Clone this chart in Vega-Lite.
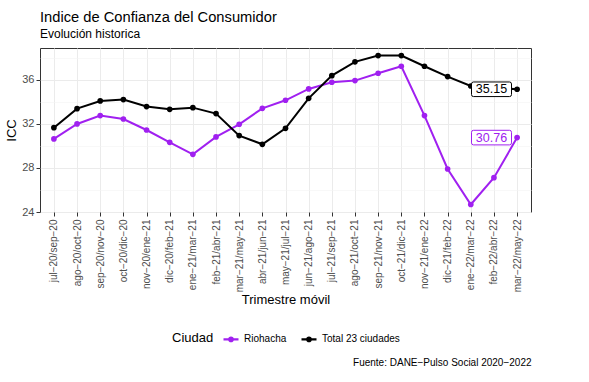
{
  "$schema": "https://vega.github.io/schema/vega-lite/v6.json",
  "background": "white",
  "padding": {"left": 5, "top": 9, "right": 5, "bottom": 5},
  "title": {
    "text": "Fuente: DANE−Pulso Social 2020−2022",
    "orient": "bottom",
    "anchor": "end",
    "fontSize": 10,
    "fontWeight": "normal",
    "font": "Liberation Sans",
    "color": "#000000",
    "offset": 12
  },
  "datasets": {
    "icc": [
      {"t": "jul−20/sep−20", "ciudad": "Riohacha", "icc": 30.64},
      {"t": "ago−20/oct−20", "ciudad": "Riohacha", "icc": 32.0},
      {"t": "sep−20/nov−20", "ciudad": "Riohacha", "icc": 32.76},
      {"t": "oct−20/dic−20", "ciudad": "Riohacha", "icc": 32.45},
      {"t": "nov−20/ene−21", "ciudad": "Riohacha", "icc": 31.45},
      {"t": "dic−20/feb−21", "ciudad": "Riohacha", "icc": 30.33},
      {"t": "ene−21/mar−21", "ciudad": "Riohacha", "icc": 29.24},
      {"t": "feb−21/abr−21", "ciudad": "Riohacha", "icc": 30.82},
      {"t": "mar−21/may−21", "ciudad": "Riohacha", "icc": 31.97},
      {"t": "abr−21/jun−21", "ciudad": "Riohacha", "icc": 33.42},
      {"t": "may−21/jul−21", "ciudad": "Riohacha", "icc": 34.15},
      {"t": "jun−21/ago−21", "ciudad": "Riohacha", "icc": 35.18},
      {"t": "jul−21/sep−21", "ciudad": "Riohacha", "icc": 35.79},
      {"t": "ago−21/oct−21", "ciudad": "Riohacha", "icc": 35.94},
      {"t": "sep−21/nov−21", "ciudad": "Riohacha", "icc": 36.61},
      {"t": "oct−21/dic−21", "ciudad": "Riohacha", "icc": 37.24},
      {"t": "nov−21/ene−22", "ciudad": "Riohacha", "icc": 32.76},
      {"t": "dic−21/feb−22", "ciudad": "Riohacha", "icc": 27.91},
      {"t": "ene−22/mar−22", "ciudad": "Riohacha", "icc": 24.68},
      {"t": "feb−22/abr−22", "ciudad": "Riohacha", "icc": 27.12},
      {"t": "mar−22/may−22", "ciudad": "Riohacha", "icc": 30.76},
      {"t": "jul−20/sep−20", "ciudad": "Total 23 ciudades", "icc": 31.66},
      {"t": "ago−20/oct−20", "ciudad": "Total 23 ciudades", "icc": 33.39},
      {"t": "sep−20/nov−20", "ciudad": "Total 23 ciudades", "icc": 34.09},
      {"t": "oct−20/dic−20", "ciudad": "Total 23 ciudades", "icc": 34.21},
      {"t": "nov−20/ene−21", "ciudad": "Total 23 ciudades", "icc": 33.58},
      {"t": "dic−20/feb−21", "ciudad": "Total 23 ciudades", "icc": 33.33},
      {"t": "ene−21/mar−21", "ciudad": "Total 23 ciudades", "icc": 33.48},
      {"t": "feb−21/abr−21", "ciudad": "Total 23 ciudades", "icc": 32.94},
      {"t": "mar−21/may−21", "ciudad": "Total 23 ciudades", "icc": 30.94},
      {"t": "abr−21/jun−21", "ciudad": "Total 23 ciudades", "icc": 30.15},
      {"t": "may−21/jul−21", "ciudad": "Total 23 ciudades", "icc": 31.6},
      {"t": "jun−21/ago−21", "ciudad": "Total 23 ciudades", "icc": 34.33},
      {"t": "jul−21/sep−21", "ciudad": "Total 23 ciudades", "icc": 36.39},
      {"t": "ago−21/oct−21", "ciudad": "Total 23 ciudades", "icc": 37.64},
      {"t": "sep−21/nov−21", "ciudad": "Total 23 ciudades", "icc": 38.21},
      {"t": "oct−21/dic−21", "ciudad": "Total 23 ciudades", "icc": 38.21},
      {"t": "nov−21/ene−22", "ciudad": "Total 23 ciudades", "icc": 37.24},
      {"t": "dic−21/feb−22", "ciudad": "Total 23 ciudades", "icc": 36.3},
      {"t": "ene−22/mar−22", "ciudad": "Total 23 ciudades", "icc": 35.45},
      {"t": "feb−22/abr−22", "ciudad": "Total 23 ciudades", "icc": 35.3},
      {"t": "mar−22/may−22", "ciudad": "Total 23 ciudades", "icc": 35.15}
    ]
  },
  "vconcat": [
    {
      "title": {
        "text": "Indice de Confianza del Consumidor",
        "subtitle": "Evolución historica",
        "anchor": "start",
        "frame": "group",
        "fontSize": 14.7,
        "subtitleFontSize": 12,
        "fontWeight": "normal",
        "font": "Liberation Sans",
        "subtitleFont": "Liberation Sans",
        "color": "#000000",
        "subtitleColor": "#000000",
        "subtitlePadding": 4,
        "offset": 8
      },
      "width": 491,
      "height": 164,
      "data": {"name": "icc"},
      "encoding": {
        "x": {
          "field": "t",
          "type": "ordinal",
          "sort": null,
          "scale": {"type": "point", "padding": 0.6},
          "axis": {
            "title": "Trimestre móvil",
            "labelAngle": -90,
            "labelFontSize": 10,
            "labelColor": "#4d4d4d",
            "titleFontSize": 13,
            "titleFontWeight": "normal",
            "titleColor": "#000000",
            "grid": true,
            "gridColor": "#ebebeb",
            "gridWidth": 1,
            "tickColor": "#333333",
            "tickSize": 4,
            "domain": false,
            "labelPadding": 3,
            "titlePadding": 2
          }
        },
        "y": {
          "field": "icc",
          "type": "quantitative",
          "scale": {"domain": [24, 38.9], "nice": false, "zero": false},
          "axis": {
            "title": "ICC",
            "values": [24, 26, 28, 30, 32, 34, 36, 38],
            "labelExpr": "datum.value % 4 == 0 ? datum.label : ''",
            "gridColor": {"expr": "datum.value % 4 == 0 ? '#ebebeb' : '#f4f4f4'"},
            "gridWidth": {"expr": "datum.value % 4 == 0 ? 1 : 0.6"},
            "tickOpacity": {"expr": "datum.value % 4 == 0 ? 1 : 0"},
            "labelFontSize": 11,
            "labelColor": "#4d4d4d",
            "titleFontSize": 13,
            "titleFontWeight": "normal",
            "titleColor": "#000000",
            "tickColor": "#333333",
            "tickSize": 4,
            "domain": false,
            "labelPadding": 2,
            "titlePadding": 3
          }
        },
        "color": {
          "field": "ciudad",
          "type": "nominal",
          "scale": {"domain": ["Riohacha", "Total 23 ciudades"], "range": ["#A020F0", "#000000"]},
          "legend": {
            "title": "Ciudad",
            "orient": "none",
            "legendX": 132,
            "legendY": 282,
            "direction": "horizontal",
            "titleOrient": "left",
            "titleFontSize": 13,
            "titleFontWeight": "normal",
            "titleColor": "#000000",
            "labelFontSize": 10,
            "labelColor": "#000000",
            "symbolType": "M-1,0 L1,0 M-0.25,0 A0.25,0.25 0 1,1 0.25,0 A0.25,0.25 0 1,1 -0.25,0",
            "symbolSize": 225,
            "symbolStrokeWidth": 2.2,
            "columnPadding": 10,
            "titlePadding": 8
          }
        }
      },
      "layer": [
        {
          "mark": {"type": "line", "strokeWidth": 2, "point": {"filled": true, "size": 32}}
        },
        {
          "transform": [{"filter": "datum.t == 'mar−22/may−22'"}],
          "mark": {
            "type": "point",
            "shape": "M-2.18,-0.365 L-0.38,-0.365 Q-0.28,-0.365 -0.28,-0.265 L-0.28,0.265 Q-0.28,0.365 -0.38,0.365 L-2.18,0.365 Q-2.28,0.365 -2.28,0.265 L-2.28,-0.265 Q-2.28,-0.365 -2.18,-0.365 Z",
            "size": 1600,
            "filled": false,
            "fill": "white",
            "fillOpacity": 1,
            "opacity": 1,
            "strokeWidth": 1
          }
        },
        {
          "transform": [{"filter": "datum.t == 'mar−22/may−22'"}],
          "mark": {"type": "text", "dx": -25.6, "fontSize": 12.5, "font": "Liberation Sans", "align": "center", "baseline": "middle"},
          "encoding": {
            "text": {"field": "icc", "type": "quantitative", "format": ".2f"}
          }
        }
      ]
    }
  ],
  "config": {
    "font": "Liberation Sans",
    "view": {"stroke": "#333333", "strokeWidth": 1},
    "axis": {"labelFont": "Liberation Sans", "titleFont": "Liberation Sans"},
    "legend": {"labelFont": "Liberation Sans", "titleFont": "Liberation Sans"}
  }
}
